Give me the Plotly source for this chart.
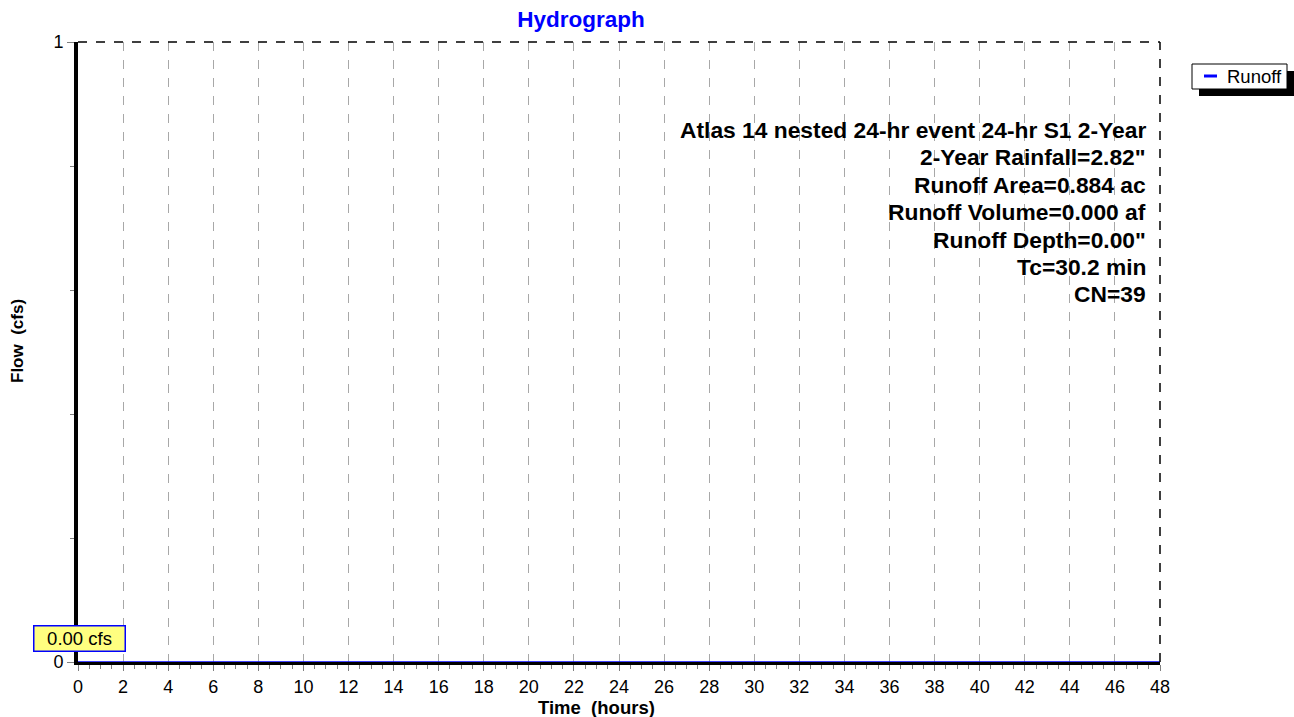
import plotly.graph_objects as go

# Data
time_hours = [0, 48]
runoff_cfs = [0.0, 0.0]
x_ticks = list(range(0, 49, 2))
y_ticks = [0, 1]
info_lines = [
    "Atlas 14 nested 24-hr event 24-hr S1 2-Year",
    "2-Year Rainfall=2.82\"",
    "Runoff Area=0.884 ac",
    "Runoff Volume=0.000 af",
    "Runoff Depth=0.00\"",
    "Tc=30.2 min",
    "CN=39",
]
peak_label = "0.00 cfs"
series_name = "Runoff"
x_title = "Time  (hours)"
y_title = "Flow  (cfs)"

FONT = "Liberation Sans, Arial, sans-serif"

W, H = 1294, 717
L, R, T, B = 78, 134, 42, 55
px = lambda x: (x - L) / (W - L - R)
py = lambda y: 1 - (y - T) / (H - T - B)

fig = go.Figure()
fig.add_trace(go.Scatter(x=time_hours, y=runoff_cfs, mode="lines", name=series_name,
                         line=dict(color="#0000ff", width=1.5), cliponaxis=False,
                         showlegend=False))

fig.update_layout(
    width=W, height=H,
    margin=dict(l=L, r=R, t=T, b=B, autoexpand=False),
    paper_bgcolor="white", plot_bgcolor="white",
    font=dict(family=FONT, size=18, color="black"),
    title=dict(text="<b>Hydrograph</b>", font=dict(size=22.5, color="#0000ff", family=FONT),
               x=581 / W, xanchor="center", xref="container", y=1 - 19 / H, yanchor="middle"),
)

fig.update_xaxes(
    range=[0, 48], tickmode="array", tickvals=x_ticks, ticktext=[str(v) for v in x_ticks],
    showgrid=True, gridcolor="#a8a8a8", griddash="dash", gridwidth=1,
    ticks="outside", ticklen=6, tickcolor="#808080", tickwidth=1,
    minor=dict(dtick=0.5, ticks="outside", ticklen=4, tickcolor="#808080", showgrid=False),
    showline=True, linecolor="black", linewidth=3, layer="below traces",
    zeroline=False, automargin=False,
    tickfont=dict(size=18),
)
fig.update_yaxes(
    range=[0, 1], tickmode="array", tickvals=y_ticks, ticktext=[str(v) for v in y_ticks],
    showgrid=False,
    ticks="outside", ticklen=7, tickcolor="#808080", tickwidth=1,
    minor=dict(dtick=0.2, ticks="outside", ticklen=4, tickcolor="#808080", showgrid=False),
    showline=True, linecolor="black", linewidth=4,
    zeroline=False, automargin=False,
    tickfont=dict(size=18),
)

# axis titles
fig.add_annotation(text=f"<b>{x_title}</b>", xref="paper", yref="paper",
                   x=px(596), y=py(707), xanchor="center", yanchor="middle",
                   showarrow=False, font=dict(size=18.5, family=FONT, color="black"))
fig.add_annotation(text=f"<b>{y_title}</b>", xref="paper", yref="paper",
                   x=px(18), y=py(341), xanchor="center", yanchor="middle", textangle=-90,
                   showarrow=False, font=dict(size=17, family=FONT, color="black"))

# dashed top and right borders
fig.add_shape(type="line", xref="paper", yref="paper", x0=0, x1=1, y0=1, y1=1,
              line=dict(color="black", width=1.5, dash="dash"))
fig.add_shape(type="line", xref="paper", yref="paper", x0=1, x1=1, y0=0, y1=1,
              line=dict(color="black", width=1.5, dash="dash"))

# legend (box with shadow, short line sample and label)
fig.add_shape(type="rect", xref="paper", yref="paper",
              x0=px(1199), x1=px(1294), y0=py(71), y1=py(96),
              fillcolor="black", line=dict(width=0))
fig.add_shape(type="rect", xref="paper", yref="paper",
              x0=px(1192), x1=px(1287), y0=py(64), y1=py(89),
              fillcolor="white", line=dict(color="black", width=1))
fig.add_shape(type="line", xref="paper", yref="paper",
              x0=px(1204), x1=px(1217), y0=py(76), y1=py(76),
              line=dict(color="#0000ff", width=3))
fig.add_annotation(text=series_name, xref="paper", yref="paper",
                   x=px(1225), y=py(77), xanchor="left", yanchor="middle",
                   showarrow=False, font=dict(size=18.5, family=FONT, color="black"))

# info text block
for i, line in enumerate(info_lines):
    fig.add_annotation(text=f"<b>{line}</b>", xref="paper", yref="paper",
                       x=px(1148), y=py(130 + i * 27.4), xanchor="right", yanchor="middle",
                       showarrow=False, font=dict(size=22.8, family=FONT, color="black"))

# peak label
fig.add_annotation(text=peak_label, xref="paper", yref="paper",
                   x=px(126), y=py(638), xanchor="right", yanchor="middle",
                   width=88, height=22, align="center", valign="middle",
                   showarrow=False, bgcolor="#ffff80", bordercolor="#0000ff", borderwidth=1.5,
                   borderpad=1, font=dict(size=18.5, family=FONT, color="black"))

fig.write_html("out.html", post_script="document.body.style.margin='0px';",
               config={"displayModeBar": False})
